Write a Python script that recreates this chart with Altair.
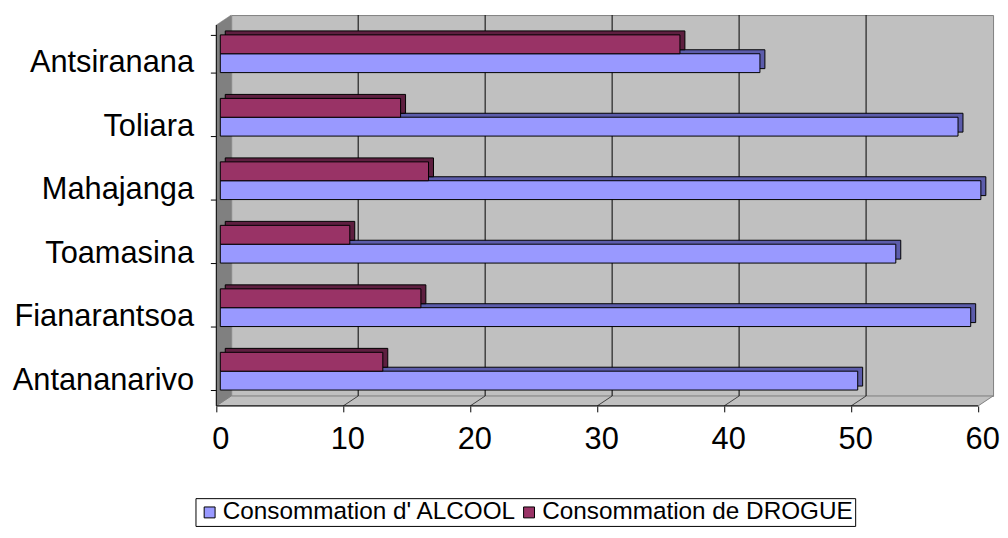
import altair as alt
import pandas as pd

# ---- data ----
regions = ["Antsiranana", "Toliara", "Mahajanga", "Toamasina", "Fianarantsoa", "Antananarivo"]
alcool = [42.5, 58.1, 59.9, 53.2, 59.1, 50.2]
drogue = [36.2, 14.2, 16.4, 10.2, 15.8, 12.8]
series = ["Consommation d' ALCOOL", "Consommation de DROGUE"]
x_ticks = [0, 10, 20, 30, 40, 50, 60]
grid_values = [10, 20, 30, 40, 50]
floor_values = [10, 20, 30, 40, 50]

df = pd.DataFrame({
    "region": regions * 2,
    "serie": [series[0]] * len(regions) + [series[1]] * len(regions),
    "value": alcool + drogue,
})
grid_df = pd.DataFrame({"g": grid_values})
floor_df = pd.DataFrame({"g": floor_values})
one = pd.DataFrame({"k": [0]})

FONT = "Liberation Sans"
W, H = 768, 384
yoff_order = [series[1], series[0]]

# scales: back wall (grid), bar front faces, bar depth faces
x_back = alt.Scale(domain=[0, 60], nice=False, zero=True, range=[0, W])
x_front = alt.Scale(domain=[0, 60], nice=False, zero=True, range=[-11, W - 11])
x_depth = alt.Scale(domain=[0, 60], nice=False, zero=True, range=[-6, W - 6])
y_front = alt.Scale(domain=regions, paddingInner=0.406, paddingOuter=0.203, range=[7, H + 7])
y_depth = alt.Scale(domain=regions, paddingInner=0.406, paddingOuter=0.203, range=[3, H + 3])

xaxis = alt.Axis(title=None, values=x_ticks, domain=False, grid=False, offset=10,
                 tickOffset=-4, labelOffset=4, tickSize=6, tickColor="black",
                 labelFontSize=31, labelFont=FONT, labelColor="black", labelPadding=13,
                 labelFlush=False, labelOverlap=False)
yaxis = alt.Axis(title=None, domain=False, grid=False, offset=15, tickBand="extent",
                 tickOffset=3, tickSize=6, tickColor="black", labelFontSize=31,
                 labelFont=FONT, labelColor="black", labelPadding=17, labelOffset=9,
                 labelLimit=400)

# ---- 3D walls (decorative) ----
left_wall = alt.Chart(one).mark_point(
    shape="M-0.0375,0.025L0,0L0,0.96L-0.0375,0.985Z", size=640000, filled=True,
    fill="#808080", stroke="#808080", strokeWidth=0.5, opacity=1
).encode(x=alt.value(0), y=alt.value(0))

floor = alt.Chart(one).mark_point(
    shape="M0,0.96L1.92,0.96L1.8825,0.985L-0.0375,0.985Z", size=640000, filled=True,
    fill="#C0C0C0", stroke="#808080", strokeWidth=1, opacity=1
).encode(x=alt.value(0), y=alt.value(0))

grid = alt.Chart(grid_df).mark_rule(color="black", strokeWidth=1).encode(
    x=alt.X("g:Q", scale=x_back, axis=None), y=alt.value(0), y2=alt.value(H)
)

floor_lines = alt.Chart(floor_df).mark_rule(color="#404040", strokeWidth=1, xOffset=-15, x2Offset=0).encode(
    x=alt.X("g:Q", scale=x_back, axis=None), x2="g:Q", y=alt.value(H + 10), y2=alt.value(H)
)

# ---- bars: darker depth copy + front face ----
dark = alt.Chart(df).mark_bar(stroke="black", strokeWidth=1, opacity=1).encode(
    x=alt.X("value:Q", scale=x_depth, stack=None, axis=None),
    y=alt.Y("region:N", scale=y_depth, sort=regions, axis=None),
    yOffset=alt.YOffset("serie:N", sort=yoff_order),
    color=alt.Color("serie:N", scale=alt.Scale(domain=series, range=["#5c5cab", "#5e1f40"]), legend=None),
)

front = alt.Chart(df).mark_bar(stroke="black", strokeWidth=1, opacity=1).encode(
    x=alt.X("value:Q", scale=x_front, stack=None, axis=xaxis),
    y=alt.Y("region:N", scale=y_front, sort=regions, axis=yaxis),
    yOffset=alt.YOffset("serie:N", sort=yoff_order),
    color=alt.Color(
        "serie:N",
        scale=alt.Scale(domain=series, range=["#9999FF", "#993366"]),
        legend=alt.Legend(
            title=None, orient="none", legendX=-36, legendY=487, direction="horizontal",
            symbolType="square", symbolSize=121, symbolStrokeColor="black",
            symbolStrokeWidth=1, symbolOpacity=1, labelFontSize=24.5, labelFont=FONT,
            labelColor="black", strokeColor="black", padding=2, labelOffset=1,
            columnPadding=0, labelLimit=500,
        ),
    ),
)

front_axis = alt.Chart(one).mark_rule(color="black", strokeWidth=1).encode(
    x=alt.value(-15), y=alt.value(10), y2=alt.value(H + 10)
)
front_edge = alt.Chart(one).mark_rule(color="black", strokeWidth=1).encode(
    x=alt.value(-15), x2=alt.value(W - 15), y=alt.value(H + 10)
)

chart = alt.layer(
    floor, left_wall, grid, floor_lines, dark, front, front_axis, front_edge
).resolve_scale(x="independent", y="independent", color="independent").properties(
    width=W, height=H,
    autosize=alt.AutoSizeParams(type="none"),
    padding={"left": 225, "top": 5, "right": 7, "bottom": 135},
).configure(font=FONT).configure_view(fill="#C0C0C0", stroke="#808080", strokeWidth=1)

chart.save("out.html", embed_options={"renderer": "svg", "actions": False})
